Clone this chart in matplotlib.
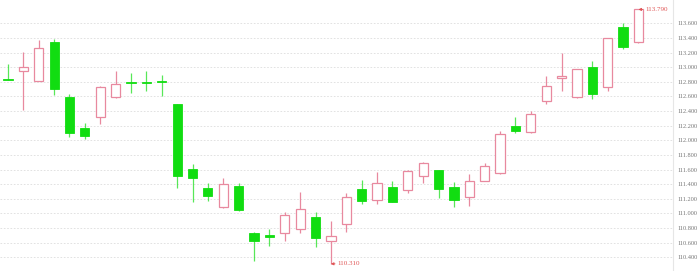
import matplotlib
matplotlib.use("Agg")
import matplotlib.pyplot as plt
import numpy as np

# OHLC
opens = [112.838, 112.947, 112.811, 113.348, 112.596, 112.164, 112.314, 112.596, 112.801, 112.801,
         112.815, 112.496, 111.603, 111.343, 111.091, 111.374, 110.735, 110.704, 110.727, 110.782,
         110.954, 110.622, 110.854, 111.329, 111.183, 111.356, 111.320, 111.511, 111.593, 111.356,
         111.228, 111.447, 111.548, 112.199, 112.109, 112.541, 112.856, 112.588, 112.998, 112.724,
         113.553, 113.340]
closes = [112.826, 113.006, 113.258, 112.701, 112.095, 112.062, 112.733, 112.766, 112.779, 112.779,
          112.793, 111.515, 111.488, 111.242, 111.398, 111.046, 110.622, 110.681, 110.973, 111.056,
          110.659, 110.690, 111.228, 111.173, 111.419, 111.160, 111.584, 111.685, 111.333, 111.183,
          111.447, 111.652, 112.082, 112.131, 112.359, 112.742, 112.875, 112.971, 112.633, 113.395,
          113.280, 113.790]
highs = [113.043, 113.203, 113.372, 113.381, 112.629, 112.232, 112.740, 112.947, 112.916, 112.947,
         112.889, 112.500, 111.675, 111.411, 111.480, 111.411, 110.749, 110.782, 111.023, 111.296,
         111.023, 110.900, 111.274, 111.456, 111.570, 111.443, 111.590, 111.699, 111.600, 111.433,
         111.534, 111.685, 112.127, 112.322, 112.404, 112.883, 113.190, 112.980, 113.084, 113.400,
         113.600, 113.790]
lows = [112.824, 112.414, 112.805, 112.619, 112.041, 112.013, 112.222, 112.582, 112.651, 112.678,
        112.605, 111.343, 111.151, 111.173, 111.077, 111.032, 110.348, 110.553, 110.622, 110.727,
        110.544, 110.310, 110.749, 111.124, 111.128, 111.155, 111.283, 111.419, 111.214, 111.091,
        111.101, 111.440, 111.540, 112.095, 112.100, 112.492, 112.674, 112.580, 112.560, 112.678,
        113.244, 113.335]
y_ticks = [110.4, 110.6, 110.8, 111.0, 111.2, 111.4, 111.6, 111.8, 112.0,
           112.2, 112.4, 112.6, 112.8, 113.0, 113.2, 113.4, 113.6]

UP = "#e8899f"
DOWN = "#11dd11"
ANNOT = "#e05555"

o = np.array(opens)
c = np.array(closes)
x = np.arange(len(o))
up = c >= o

fig = plt.figure(figsize=(7, 2.71), dpi=100)
ax = fig.add_axes([0, 0, 673 / 700, 1])

# wicks
ax.vlines(x[up], np.array(lows)[up], np.array(highs)[up], color=UP, lw=0.9, zorder=2)
ax.vlines(x[~up], np.array(lows)[~up], np.array(highs)[~up], color=DOWN, lw=0.9, zorder=2, alpha=0.7)

# bodies
w = 0.6
body = np.abs(c - o)
body = np.maximum(body, 0.015)
bottom = np.minimum(o, c)
ax.bar(x[up], body[up], bottom=bottom[up], width=w, facecolor="white",
       edgecolor=UP, lw=0.9, zorder=3)
ax.bar(x[~up], body[~up], bottom=bottom[~up], width=w, facecolor=DOWN,
       edgecolor=DOWN, lw=0.6, zorder=3)

# max / min markers
i_hi = int(np.argmax(highs))
i_lo = int(np.argmin(lows))
for i, val in [(i_hi, highs[i_hi]), (i_lo, lows[i_lo])]:
    ax.annotate(f"{val:.3f}", xy=(i, val), xytext=(5, 0), textcoords="offset points",
                ha="left", va="center", fontsize=5, color=ANNOT, family="Liberation Serif",
                arrowprops=dict(arrowstyle="-|>", color=ANNOT, lw=0.6,
                                mutation_scale=4, shrinkA=0, shrinkB=0))

ax.set_xlim(-0.52, 43.25)
ax.set_ylim(110.212, 113.919)
ax.set_yticks(y_ticks)
ax.set_yticklabels([f"{t:.3f}" for t in y_ticks])
ax.yaxis.tick_right()
ax.tick_params(axis="y", length=0, pad=3, labelsize=4.6, labelcolor="#777777")
for lab in ax.get_yticklabels():
    lab.set_family("Liberation Serif")
ax.set_xticks([])
ax.grid(axis="y", color="#dddddd", ls=(0, (2, 2)), lw=0.6, zorder=0)
for s in ["top", "bottom", "left"]:
    ax.spines[s].set_visible(False)
ax.spines["right"].set_color("#e6e6e6")
ax.spines["right"].set_linewidth(0.8)

fig.savefig("out.png", dpi=100)
